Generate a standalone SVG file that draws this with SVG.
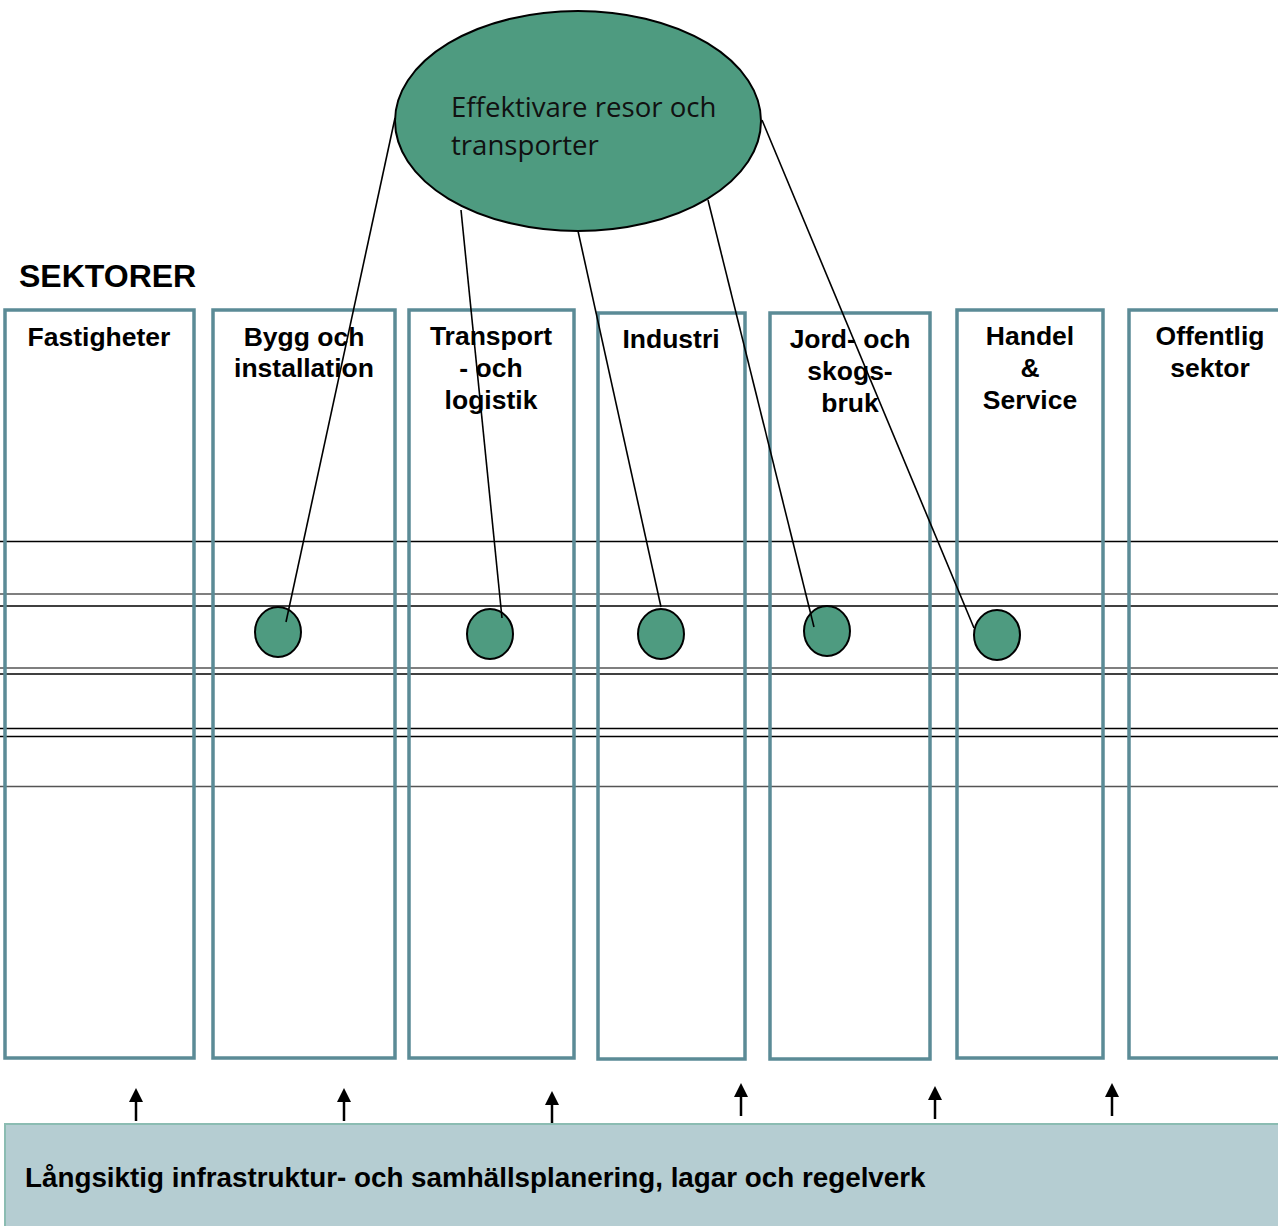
<svg xmlns="http://www.w3.org/2000/svg" width="1278" height="1226" viewBox="0 0 1278 1226">
<defs>
<style>
.hl{stroke:#000;stroke-width:1.3}
.hg{stroke:#555;stroke-width:1.3}
.col{fill:none;stroke:#5b8b96;stroke-width:3.5}
.hd{font-family:"Liberation Sans",Arial,sans-serif;font-weight:bold;font-size:26.5px;fill:#000;text-anchor:middle}
.dot{fill:#4e9b80;stroke:#000;stroke-width:2}
.cn{stroke:#000;stroke-width:1.6;fill:none}
.ar{stroke:#000;stroke-width:2.5}
</style>
</defs>
<rect width="1278" height="1226" fill="#fff"/>
<g id="grid">
<line class="hl" x1="0" y1="541.5" x2="1278" y2="541.5"/>
<line class="hg" x1="0" y1="594" x2="1278" y2="594"/>
<line class="hl" x1="0" y1="606" x2="1278" y2="606"/>
<line class="hg" x1="0" y1="668" x2="1278" y2="668"/>
<line class="hl" x1="0" y1="674" x2="1278" y2="674"/>
<line class="hl" x1="0" y1="728.5" x2="1278" y2="728.5"/>
<line class="hl" x1="0" y1="736.5" x2="1278" y2="736.5"/>
<line class="hg" x1="0" y1="786.5" x2="1278" y2="786.5"/>
</g>
<text x="19" y="287" font-family="Liberation Sans,Arial,sans-serif" font-weight="bold" font-size="32">SEKTORER</text>
<g id="col-fastigheter"><rect class="col" x="5" y="310" width="189" height="748"/><text class="hd" x="99" y="346">Fastigheter</text></g>
<g id="col-bygg"><rect class="col" x="213" y="310" width="182" height="748"/><text class="hd" x="304" y="346">Bygg och</text><text class="hd" x="304" y="377">installation</text></g>
<g id="col-transport"><rect class="col" x="409" y="310" width="165" height="748"/><text class="hd" x="491" y="345">Transport</text><text class="hd" x="491" y="377">- och</text><text class="hd" x="491" y="409">logistik</text></g>
<g id="col-industri"><rect class="col" x="598" y="313" width="147" height="746"/><text class="hd" x="671" y="348">Industri</text></g>
<g id="col-jord"><rect class="col" x="770" y="313" width="160" height="746"/><text class="hd" x="850" y="348">Jord- och</text><text class="hd" x="850" y="380">skogs-</text><text class="hd" x="850" y="412">bruk</text></g>
<g id="col-handel"><rect class="col" x="957" y="310" width="146" height="748"/><text class="hd" x="1030" y="345">Handel</text><text class="hd" x="1030" y="377">&amp;</text><text class="hd" x="1030" y="409">Service</text></g>
<g id="col-offentlig"><rect class="col" x="1129" y="310" width="160" height="748"/><text class="hd" x="1210" y="345">Offentlig</text><text class="hd" x="1210" y="377">sektor</text></g>
<g id="goal"><ellipse cx="578" cy="121" rx="183" ry="110" fill="#4e9b80" stroke="#000" stroke-width="2"/>
<text font-family="Open Sans,Noto Sans,sans-serif" font-size="27.6" fill="#111"><tspan x="451" y="117">Effektivare resor och</tspan><tspan x="451" y="155">transporter</tspan></text></g>
<g id="dots">
<ellipse class="dot" cx="278" cy="632" rx="23" ry="25"/>
<ellipse class="dot" cx="490" cy="634" rx="23" ry="25"/>
<ellipse class="dot" cx="661" cy="634" rx="23" ry="25"/>
<ellipse class="dot" cx="827" cy="631" rx="23" ry="25"/>
<ellipse class="dot" cx="997" cy="635" rx="23" ry="25"/>
</g>
<g id="connectors">
<line class="cn" x1="395" y1="118" x2="286" y2="622"/>
<line class="cn" x1="461" y1="210" x2="502" y2="618"/>
<line class="cn" x1="578" y1="231" x2="661" y2="607"/>
<line class="cn" x1="708" y1="200" x2="814" y2="627"/>
<line class="cn" x1="762" y1="120" x2="974" y2="628"/>
<g class="ar">
<line x1="136" y1="1121" x2="136" y2="1100"/>
<line x1="344" y1="1121" x2="344" y2="1100"/>
<line x1="552" y1="1124" x2="552" y2="1103"/>
<line x1="741" y1="1116" x2="741" y2="1095"/>
<line x1="935" y1="1119" x2="935" y2="1098"/>
<line x1="1112" y1="1116" x2="1112" y2="1095"/>
</g>
<g fill="#000">
<polygon points="129,1102 143,1102 136,1088"/>
<polygon points="337,1102 351,1102 344,1088"/>
<polygon points="545,1105 559,1105 552,1091"/>
<polygon points="734,1097 748,1097 741,1083"/>
<polygon points="928,1100 942,1100 935,1086"/>
<polygon points="1105,1097 1119,1097 1112,1083"/>
</g>
</g>
<g id="base"><rect x="5" y="1124" width="1280" height="110" fill="#b5cdd2" stroke="#8bbcb2" stroke-width="2"/>
<text x="25" y="1187" font-family="Liberation Sans,Arial,sans-serif" font-weight="bold" font-size="27.8">Långsiktig infrastruktur- och samhällsplanering, lagar och regelverk</text></g>
</svg>
